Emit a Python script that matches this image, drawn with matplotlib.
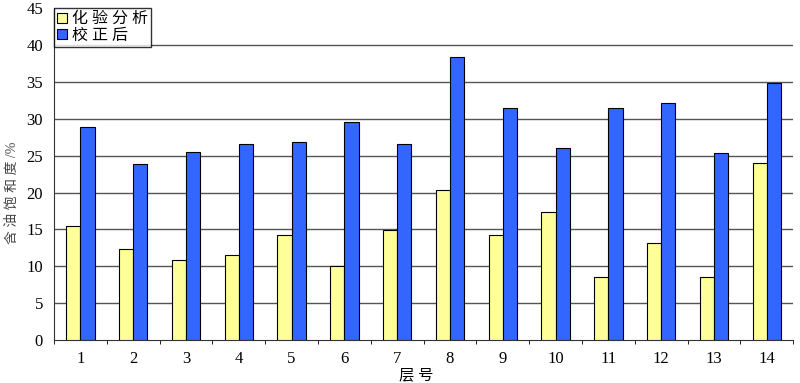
import numpy as np
import matplotlib
matplotlib.use("Agg")
import matplotlib.pyplot as plt

plt.rcParams['font.family'] = ['Liberation Serif', 'Noto Sans CJK SC', 'DejaVu Sans']

layers = ['1', '2', '3', '4', '5', '6', '7', '8', '9', '10', '11', '12', '13', '14']
lab_vals = [15.4, 12.3, 10.9, 11.5, 14.3, 10.1, 14.9, 20.4, 14.2, 17.4, 8.5, 13.2, 8.5, 24.0]
corr_vals = [28.9, 23.8, 25.5, 26.6, 26.9, 29.5, 26.6, 38.3, 31.5, 26.1, 31.4, 32.1, 25.3, 34.9]

fig = plt.figure(figsize=(8, 3.83), dpi=100)
ax = fig.add_axes([0.0675, 0.112, 0.924, 0.867])

x = np.arange(len(layers))
w = 0.27
ax.bar(x - w / 2, lab_vals, w, color='#FFFF99', edgecolor='black', linewidth=0.8,
       label='化 验 分 析', zorder=3)
ax.bar(x + w / 2, corr_vals, w, color='#3366FF', edgecolor='black', linewidth=0.8,
       label='校 正 后', zorder=3)

ax.set_xlim(-0.5, len(layers) - 0.5)
ax.set_ylim(0, 45)
ax.set_yticks(np.arange(0, 46, 5))
ax.set_xticks(x)
ax.set_xticklabels(layers)
ax.set_xticks(np.arange(-0.5, len(layers), 1), minor=True)
ax.tick_params(axis='x', which='major', length=0, labelsize=12, pad=8)
ax.tick_params(axis='x', which='minor', length=3, direction='out')
ax.tick_params(axis='y', length=0, labelsize=12, pad=8)

for v in range(5, 45, 5):
    ax.axhline(v, color='#555555', linewidth=1.0, zorder=1)

for s in ['top', 'right']:
    ax.spines[s].set_visible(False)
ax.spines['left'].set_color('#333333')
ax.spines['bottom'].set_color('#333333')

ax.set_ylabel('含 油 饱 和 度 /%', fontsize=10, color='#444444', va='center', ha='center')
ax.yaxis.set_label_coords(-0.057, 0.443)
ax.set_xlabel('层 号', fontsize=11, va='center', ha='center')
ax.xaxis.set_label_coords(0.49, -0.105)

leg = ax.legend(loc='upper left', bbox_to_anchor=(0.0, 1.0), fontsize=11.5, frameon=True,
                fancybox=False, edgecolor='black', handlelength=0.6, handleheight=0.6,
                handletextpad=0.3, borderpad=0.2, labelspacing=0.05, borderaxespad=0)
leg.get_frame().set_linewidth(1.0)
leg.set_zorder(5)

fig.savefig('out.png', dpi=100)
